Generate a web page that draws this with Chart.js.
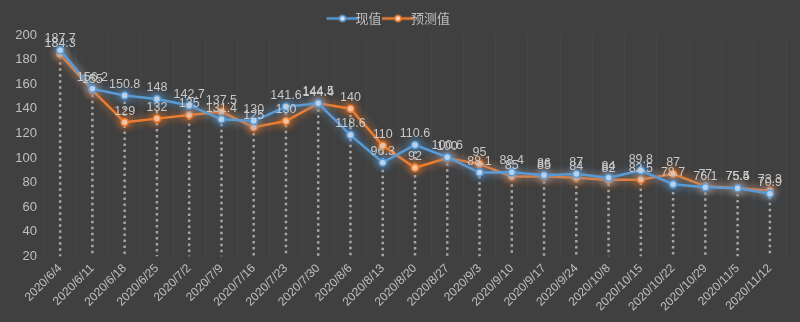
<!DOCTYPE html>
<html>
<head>
<meta charset="utf-8">
<script src="https://cdn.jsdelivr.net/npm/chart.js@4.4.0/dist/chart.umd.min.js"></script>
<style>
  html, body { margin: 0; padding: 0; background: #404040; }
  #wrap { width: 800px; height: 322px; }
</style>
</head>
<body>
<div id="wrap"><canvas id="chart"></canvas></div>
<script>
const dates = ['2020/6/4', '2020/6/11', '2020/6/18', '2020/6/25', '2020/7/2', '2020/7/9', '2020/7/16',
    '2020/7/23', '2020/7/30', '2020/8/6', '2020/8/13', '2020/8/20', '2020/8/27', '2020/9/3', '2020/9/10',
    '2020/9/17', '2020/9/24', '2020/10/8', '2020/10/15', '2020/10/22', '2020/10/29', '2020/11/5', '2020/11/12'];
const actual = [187.7, 156.2, 150.8, 148, 142.7, 131.4, 130, 141.6, 144.5, 118.6, 96.3, 110.6, 100.6,
    88.1, 88.4, 86, 87, 84, 89.8, 78.7, 76.1, 75.4, 70.9];
const predicted = [184.3, 155, 129, 132, 135, 137.5, 125, 130, 144.4, 140, 110, 92, 100,
    95, 85, 85, 84, 82, 82.5, 87, 77, 75.5, 73.3];
const yTicks = [20, 40, 60, 80, 100, 120, 140, 160, 180, 200];

const BLUE = '#5b9bd5';
const ORANGE = '#ed7d31';
const TEXT = '#bfbfbf';

// little line+marker swatch for the legend, like Excel draws it
function legendSwatch(color, fill) {
    const c = document.createElement('canvas');
    c.width = 34; c.height = 10;
    const g = c.getContext('2d');
    g.strokeStyle = color; g.lineWidth = 2.5;
    g.beginPath(); g.moveTo(1, 5); g.lineTo(33, 5); g.stroke();
    g.fillStyle = fill; g.lineWidth = 1.5;
    g.beginPath(); g.arc(17, 5, 3, 0, Math.PI * 2); g.fill(); g.stroke();
    return c;
}

// dotted drop lines from the higher point of each category down to the axis
const dropLines = {
    id: 'dropLines',
    beforeDatasetsDraw(chart) {
        const { ctx, chartArea, scales } = chart;
        ctx.save();
        ctx.strokeStyle = '#a6a6a6';
        ctx.lineWidth = 2.5;
        ctx.setLineDash([2.5, 3.5]);
        dates.forEach((d, i) => {
            const x = scales.x.getPixelForValue(i);
            const top = scales.y.getPixelForValue(Math.max(actual[i], predicted[i]));
            ctx.beginPath();
            ctx.moveTo(x, top);
            ctx.lineTo(x, chartArea.bottom);
            ctx.stroke();
        });
        ctx.restore();
    }
};

// soft glow around each series
const glow = {
    id: 'glow',
    beforeDatasetDraw(chart, args) {
        const ctx = chart.ctx;
        ctx.save();
        ctx.shadowColor = chart.data.datasets[args.index].borderColor;
        ctx.shadowBlur = 9;
    },
    afterDatasetDraw(chart) {
        chart.ctx.restore();
    }
};

// value labels above every point
const valueLabels = {
    id: 'valueLabels',
    afterDatasetsDraw(chart) {
        const ctx = chart.ctx;
        ctx.save();
        ctx.font = '12.5px "Liberation Sans", "DejaVu Sans", sans-serif';
        ctx.fillStyle = '#c8c8c8';
        ctx.textAlign = 'center';
        ctx.textBaseline = 'bottom';
        chart.data.datasets.forEach((ds, di) => {
            chart.getDatasetMeta(di).data.forEach((pt, i) => {
                ctx.fillText(String(ds.data[i]), pt.x, pt.y - 5);
            });
        });
        ctx.restore();
    }
};

new Chart(document.getElementById('chart'), {
    type: 'line',
    data: {
        labels: dates,
        datasets: [{
            label: '现值',
            data: actual,
            borderColor: BLUE,
            backgroundColor: '#cfe0f2',
            borderWidth: 2.5,
            pointRadius: 3.5,
            pointBorderWidth: 1.5,
            pointBackgroundColor: '#cfe0f2',
            pointBorderColor: BLUE,
            pointStyle: 'circle',
            tension: 0
        }, {
            label: '预测值',
            data: predicted,
            borderColor: ORANGE,
            backgroundColor: '#f8d3b9',
            borderWidth: 2.5,
            pointRadius: 3.5,
            pointBorderWidth: 1.5,
            pointBackgroundColor: '#f8d3b9',
            pointBorderColor: ORANGE,
            pointStyle: 'circle',
            tension: 0
        }]
    },
    options: {
        responsive: true,
        maintainAspectRatio: false,
        animation: false,
        layout: { padding: { top: 2, right: 14, bottom: 3, left: 0 } },
        plugins: {
            tooltip: { enabled: false },
            legend: {
                position: 'top',
                labels: {
                    color: TEXT,
                    font: { size: 13, family: '"Noto Sans CJK SC", sans-serif' },
                    usePointStyle: true,
                    padding: 10,
                    generateLabels(chart) {
                        return chart.data.datasets.map((ds, i) => ({
                            text: ds.label,
                            fontColor: TEXT,
                            pointStyle: legendSwatch(ds.borderColor, ds.pointBackgroundColor),
                            datasetIndex: i,
                            hidden: false,
                            lineWidth: 0
                        }));
                    }
                }
            }
        },
        scales: {
            x: {
                offset: true,
                grid: { display: true, color: 'rgba(255,255,255,0.035)', drawTicks: false, offset: true },
                border: { display: false },
                ticks: {
                    color: TEXT,
                    font: { size: 12, family: '"Liberation Sans", sans-serif' },
                    maxRotation: 45,
                    minRotation: 45,
                    autoSkip: false,
                    padding: 5
                }
            },
            y: {
                min: 20,
                max: 200,
                afterBuildTicks(axis) {
                    axis.ticks = yTicks.map(v => ({ value: v }));
                },
                afterFit(axis) {
                    axis.width = 44;
                },
                grid: { display: false, drawTicks: false },
                border: { display: false },
                ticks: {
                    color: TEXT,
                    font: { size: 13, family: '"Liberation Sans", sans-serif' },
                    padding: 7
                }
            }
        }
    },
    plugins: [dropLines, glow, valueLabels]
});
</script>
</body>
</html>
